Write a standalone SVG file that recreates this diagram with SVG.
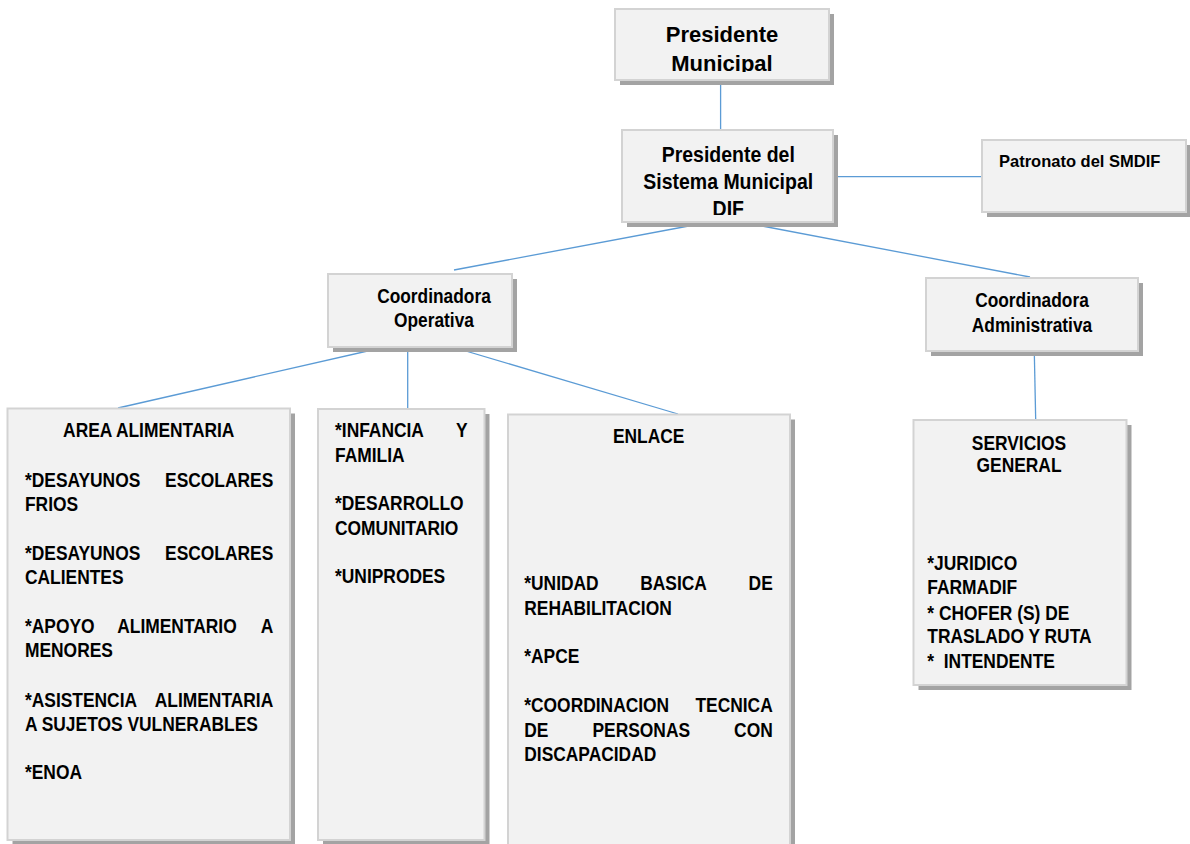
<svg xmlns="http://www.w3.org/2000/svg" width="1190" height="844" viewBox="0 0 1190 844">
<style>
.sh{fill:#a3a3a3}
.bx{fill:#f2f2f2;stroke:#d3d3d3;stroke-width:2}
text{font-family:"Liberation Sans",Arial,sans-serif;font-weight:bold;fill:#000}
.t22{font-size:22px}
.t21{font-size:21px}
.t20{font-size:20px}
.t16{font-size:16.5px}
.c{text-anchor:middle}
.e{text-anchor:end}
.ln{stroke:#5b9bd5;stroke-width:1.3;fill:none}
</style>
<defs>
<clipPath id="cp1"><rect x="612" y="6" width="220" height="66"/></clipPath>
<clipPath id="cp2"><rect x="619" y="127" width="217" height="88"/></clipPath>
</defs>
<rect width="1190" height="844" fill="#ffffff"/>
<g id="connectors" class="ln">
<line x1="720.6" y1="84" x2="720.6" y2="130"/>
<line x1="838" y1="176.7" x2="982" y2="176.7"/>
<line x1="694" y1="225" x2="454" y2="270"/>
<line x1="762" y1="226" x2="1030" y2="277"/>
<line x1="1034.3" y1="352" x2="1035.7" y2="420"/>
<line x1="383" y1="347.5" x2="118" y2="408"/>
<line x1="407.7" y1="349" x2="407.7" y2="409"/>
<line x1="454" y1="347.5" x2="678" y2="414"/>
</g>
<g id="presidente-municipal">
<rect class="sh" x="620" y="14" width="214" height="71"/>
<rect class="bx" x="615" y="9" width="214" height="71"/>
<g clip-path="url(#cp1)">
<text class="t22 c" x="722" y="41.7">Presidente</text>
<text class="t22 c" x="722" y="70.7">Municipal</text>
</g>
</g>
<g id="presidente-smdif">
<rect class="sh" x="627" y="135" width="211" height="92"/>
<rect class="bx" x="622" y="130" width="211" height="92"/>
<g clip-path="url(#cp2)"><g transform="scale(0.885,1)">
<text class="t22 c" x="822.9" y="162.5">Presidente del</text>
<text class="t22 c" x="822.9" y="189.3">Sistema Municipal</text>
<text class="t22 c" x="822.9" y="216.3">DIF</text>
</g></g>
</g>
<g id="patronato">
<rect class="sh" x="987" y="145" width="204" height="72"/>
<rect class="bx" x="982" y="140" width="204" height="72"/>
<text class="t16" x="999" y="166.5">Patronato del SMDIF</text>
</g>
<g id="coord-operativa">
<rect class="sh" x="333" y="279" width="184" height="73"/>
<rect class="bx" x="328" y="274" width="184" height="73"/>
<g transform="scale(0.826,1)">
<text class="t21 c" x="525.4" y="303.3">Coordinadora</text>
<text class="t21 c" x="525.4" y="326.7">Operativa</text>
</g>
</g>
<g id="coord-administrativa">
<rect class="sh" x="931" y="283" width="212" height="73"/>
<rect class="bx" x="926" y="278" width="212" height="73"/>
<g transform="scale(0.826,1)">
<text class="t21 c" x="1249.4" y="306.7">Coordinadora</text>
<text class="t21 c" x="1249.4" y="331.7">Administrativa</text>
</g>
</g>
<g id="area-alimentaria">
<rect class="sh" x="12.5" y="413.5" width="282.5" height="431.5"/>
<rect class="bx" x="7.5" y="408.5" width="282.5" height="431.5"/>
<g transform="scale(0.87,1)" class="t20">
<text class="c" x="171" y="436.7">AREA ALIMENTARIA</text>
<text x="28.7" y="486.7">*DESAYUNOS</text><text class="e" x="314.1" y="486.7">ESCOLARES</text>
<text x="28.7" y="510.7">FRIOS</text>
<text x="28.7" y="560">*DESAYUNOS</text><text class="e" x="314.1" y="560">ESCOLARES</text>
<text x="28.7" y="584">CALIENTES</text>
<text x="28.7" y="633.3">*APOYO</text><text x="134.8" y="633.3">ALIMENTARIO</text><text class="e" x="314.1" y="633.3">A</text>
<text x="28.7" y="657.3">MENORES</text>
<text x="28.7" y="706.7">*ASISTENCIA</text><text class="e" x="314.1" y="706.7">ALIMENTARIA</text>
<text x="28.7" y="730.7">A SUJETOS VULNERABLES</text>
<text x="28.7" y="779.3">*ENOA</text>
</g>
</g>
<g id="infancia">
<rect class="sh" x="323" y="414" width="166.5" height="431"/>
<rect class="bx" x="318" y="409" width="166.5" height="431"/>
<g transform="scale(0.87,1)" class="t20">
<text x="385.1" y="436.7">*INFANCIA</text><text class="e" x="537.6" y="436.7">Y</text>
<text x="385.1" y="461.7">FAMILIA</text>
<text x="385.1" y="510">*DESARROLLO</text>
<text x="385.1" y="535">COMUNITARIO</text>
<text x="385.1" y="583.3">*UNIPRODES</text>
</g>
</g>
<g id="enlace">
<rect class="sh" x="513" y="419.5" width="282" height="440"/>
<rect class="bx" x="508" y="414.5" width="282" height="440"/>
<g transform="scale(0.87,1)" class="t20">
<text class="c" x="745.6" y="442.7">ENLACE</text>
<text x="602.6" y="590">*UNIDAD</text><text x="735.9" y="590">BASICA</text><text class="e" x="888.2" y="590">DE</text>
<text x="602.6" y="615">REHABILITACION</text>
<text x="602.6" y="662.7">*APCE</text>
<text x="602.6" y="711.7">*COORDINACION</text><text class="e" x="888.2" y="711.7">TECNICA</text>
<text x="602.6" y="736.7">DE</text><text x="681" y="736.7">PERSONAS</text><text class="e" x="888.2" y="736.7">CON</text>
<text x="602.6" y="760.7">DISCAPACIDAD</text>
</g>
</g>
<g id="servicios">
<rect class="sh" x="918.5" y="425" width="213" height="265"/>
<rect class="bx" x="913.5" y="420" width="213" height="265"/>
<g transform="scale(0.87,1)" class="t20">
<text class="c" x="1171.3" y="450">SERVICIOS</text>
<text class="c" x="1171.3" y="471.7">GENERAL</text>
<text x="1065.9" y="570">*JURIDICO</text>
<text x="1065.9" y="594">FARMADIF</text>
<text x="1065.9" y="620">* CHOFER (S) DE</text>
<text x="1065.9" y="643.3">TRASLADO Y RUTA</text>
<text x="1065.9" y="668.3" xml:space="preserve">*  INTENDENTE</text>
</g>
</g>
</svg>
